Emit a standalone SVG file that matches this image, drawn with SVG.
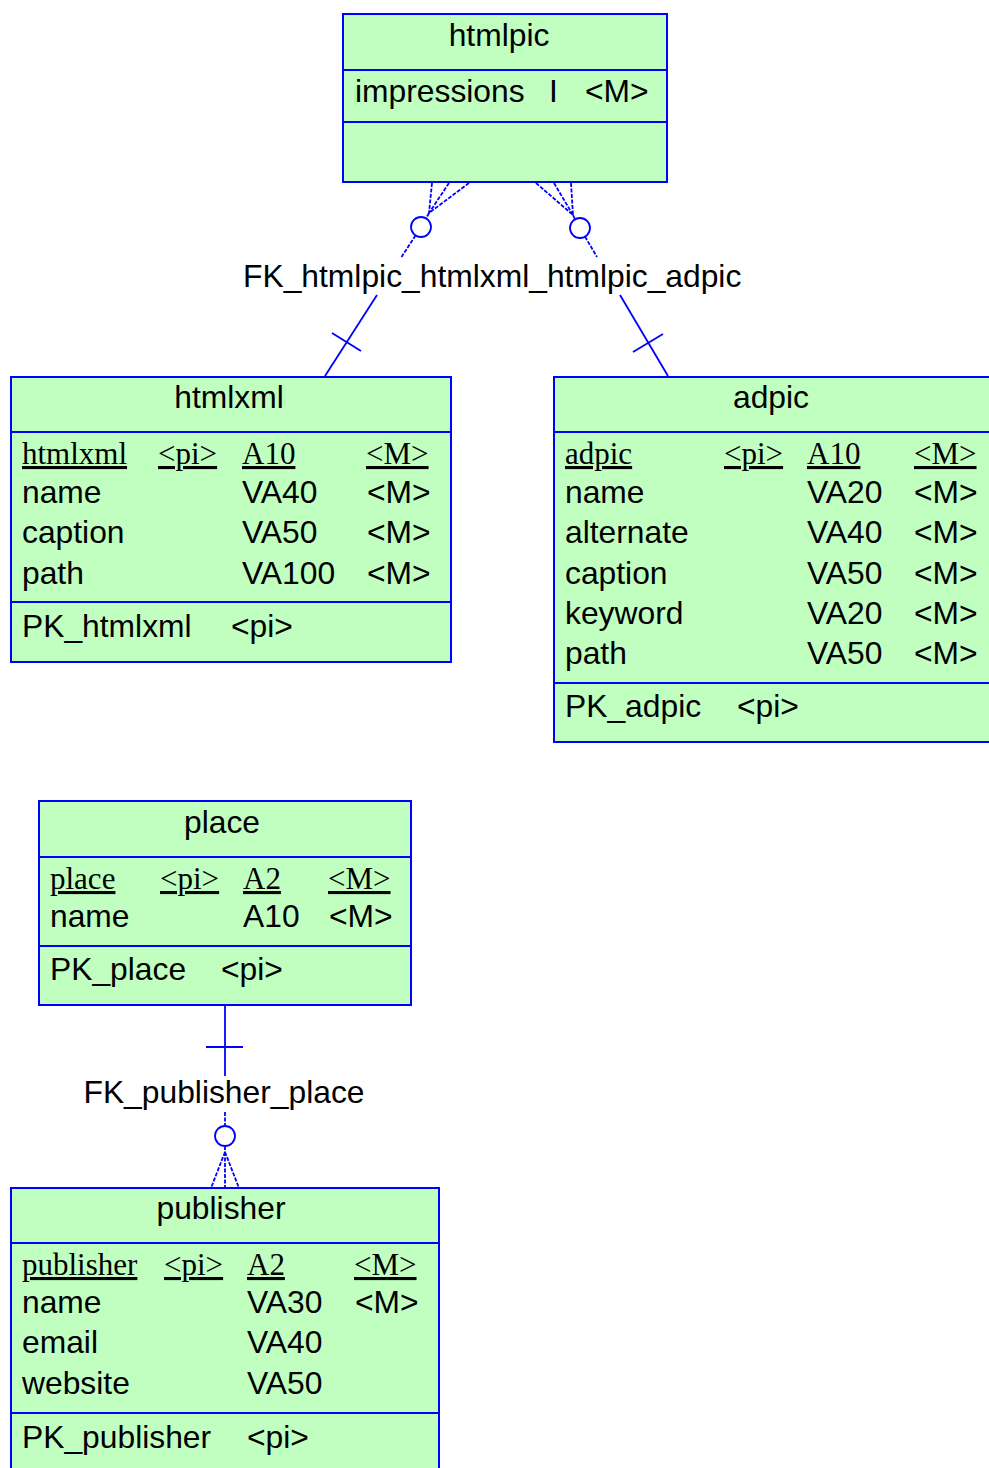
<svg xmlns="http://www.w3.org/2000/svg" width="989" height="1468" viewBox="0 0 989 1468">
<style>
.box{fill:#C0FFC0;stroke:#0000FF;stroke-width:2}
.div{stroke:#0000FF;stroke-width:2}
.t{font-family:"Liberation Sans",Arial,sans-serif;font-size:31.8px;fill:#000}
.c{text-anchor:middle}
.k{font-family:"Liberation Serif","Times New Roman",serif;font-size:31px;fill:#000;text-decoration:underline}
.ln{stroke:#0000FF;stroke-width:1.8;fill:none}
.dl{stroke:#0000FF;stroke-width:1.8;fill:none;stroke-dasharray:4,1.5}
.ci{stroke:#0000FF;stroke-width:1.8;fill:#fff}
</style>
<rect width="989" height="1468" fill="#fff"/>

<g id="connectors">
  <!-- FK_htmlpic_htmlxml -->
  <line class="dl" x1="449" y1="183" x2="429" y2="213"/>
  <line class="dl" x1="432" y1="183" x2="429" y2="213"/>
  <line class="dl" x1="469" y1="183" x2="429" y2="213"/>
  <line class="dl" x1="429" y1="213" x2="426" y2="218.6"/>
  <circle class="ci" cx="421" cy="227" r="10"/>
  <line class="dl" x1="415.6" y1="235.4" x2="401.5" y2="257"/>
  <line class="ln" x1="377" y1="295" x2="325" y2="376"/>
  <line class="ln" x1="332" y1="333" x2="361" y2="351"/>
  <!-- FK_htmlpic_adpic -->
  <line class="dl" x1="554" y1="183" x2="573" y2="215"/>
  <line class="dl" x1="536" y1="183" x2="573" y2="215"/>
  <line class="dl" x1="571" y1="183" x2="573" y2="215"/>
  <line class="dl" x1="573" y1="215" x2="575" y2="219.4"/>
  <circle class="ci" cx="580" cy="228" r="10"/>
  <line class="dl" x1="585" y1="236.6" x2="597" y2="257"/>
  <line class="ln" x1="620" y1="295" x2="668" y2="376"/>
  <line class="ln" x1="633" y1="352" x2="663" y2="334"/>
  <text class="t" x="243" y="287">FK_htmlpic_htmlxml_htmlpic_adpic</text>
  <!-- FK_publisher_place -->
  <line class="ln" x1="225" y1="1005" x2="225" y2="1076"/>
  <line class="ln" x1="206" y1="1047" x2="243" y2="1047"/>
  <text class="t c" x="224" y="1103">FK_publisher_place</text>
  <line class="dl" x1="225" y1="1112" x2="225" y2="1125"/>
  <circle class="ci" cx="225" cy="1136" r="10"/>
  <line class="dl" x1="225" y1="1146" x2="225" y2="1152"/>
  <line class="dl" x1="225" y1="1152" x2="225" y2="1188"/>
  <line class="dl" x1="225" y1="1152" x2="211" y2="1188"/>
  <line class="dl" x1="225" y1="1152" x2="239" y2="1188"/>
</g>

<g id="htmlpic">
  <rect class="box" x="343" y="14" width="324" height="168"/>
  <line class="div" x1="343" y1="70" x2="667" y2="70"/>
  <line class="div" x1="343" y1="122" x2="667" y2="122"/>
  <text class="t c" x="499" y="46">htmlpic</text>
  <text class="t" x="355" y="102">impressions</text>
  <text class="t" x="549" y="102">I</text>
  <text class="t" x="585" y="102">&lt;M&gt;</text>
</g>

<g id="htmlxml">
  <rect class="box" x="11" y="377" width="440" height="285"/>
  <line class="div" x1="11" y1="432" x2="451" y2="432"/>
  <line class="div" x1="11" y1="602" x2="451" y2="602"/>
  <text class="t c" x="229" y="408">htmlxml</text>
  <text class="k" x="22" y="464">htmlxml</text>
  <text class="k" x="158" y="464">&lt;pi&gt;</text>
  <text class="k" x="242" y="464">A10</text>
  <text class="k" x="366" y="464">&lt;M&gt;</text>
  <text class="t" x="22" y="503">name</text>
  <text class="t" x="242" y="503">VA40</text>
  <text class="t" x="367" y="503">&lt;M&gt;</text>
  <text class="t" x="22" y="543">caption</text>
  <text class="t" x="242" y="543">VA50</text>
  <text class="t" x="367" y="543">&lt;M&gt;</text>
  <text class="t" x="22" y="584">path</text>
  <text class="t" x="242" y="584">VA100</text>
  <text class="t" x="367" y="584">&lt;M&gt;</text>
  <text class="t" x="22" y="637">PK_htmlxml</text>
  <text class="t" x="231" y="637">&lt;pi&gt;</text>
</g>

<g id="adpic">
  <rect class="box" x="554" y="377" width="445" height="365"/>
  <line class="div" x1="554" y1="432" x2="999" y2="432"/>
  <line class="div" x1="554" y1="683" x2="999" y2="683"/>
  <text class="t c" x="771" y="408">adpic</text>
  <text class="k" x="565" y="464">adpic</text>
  <text class="k" x="724" y="464">&lt;pi&gt;</text>
  <text class="k" x="807" y="464">A10</text>
  <text class="k" x="914" y="464">&lt;M&gt;</text>
  <text class="t" x="565" y="503">name</text>
  <text class="t" x="807" y="503">VA20</text>
  <text class="t" x="914" y="503">&lt;M&gt;</text>
  <text class="t" x="565" y="543">alternate</text>
  <text class="t" x="807" y="543">VA40</text>
  <text class="t" x="914" y="543">&lt;M&gt;</text>
  <text class="t" x="565" y="584">caption</text>
  <text class="t" x="807" y="584">VA50</text>
  <text class="t" x="914" y="584">&lt;M&gt;</text>
  <text class="t" x="565" y="624">keyword</text>
  <text class="t" x="807" y="624">VA20</text>
  <text class="t" x="914" y="624">&lt;M&gt;</text>
  <text class="t" x="565" y="664">path</text>
  <text class="t" x="807" y="664">VA50</text>
  <text class="t" x="914" y="664">&lt;M&gt;</text>
  <text class="t" x="565" y="717">PK_adpic</text>
  <text class="t" x="737" y="717">&lt;pi&gt;</text>
</g>

<g id="place">
  <rect class="box" x="39" y="801" width="372" height="204"/>
  <line class="div" x1="39" y1="857" x2="411" y2="857"/>
  <line class="div" x1="39" y1="946" x2="411" y2="946"/>
  <text class="t c" x="222" y="833">place</text>
  <text class="k" x="50" y="889">place</text>
  <text class="k" x="160" y="889">&lt;pi&gt;</text>
  <text class="k" x="243" y="889">A2</text>
  <text class="k" x="328" y="889">&lt;M&gt;</text>
  <text class="t" x="50" y="927">name</text>
  <text class="t" x="243" y="927">A10</text>
  <text class="t" x="329" y="927">&lt;M&gt;</text>
  <text class="t" x="50" y="980">PK_place</text>
  <text class="t" x="221" y="980">&lt;pi&gt;</text>
</g>

<g id="publisher">
  <rect class="box" x="11" y="1188" width="428" height="290"/>
  <line class="div" x1="11" y1="1243" x2="439" y2="1243"/>
  <line class="div" x1="11" y1="1413" x2="439" y2="1413"/>
  <text class="t c" x="221" y="1219">publisher</text>
  <text class="k" x="22" y="1275">publisher</text>
  <text class="k" x="164" y="1275">&lt;pi&gt;</text>
  <text class="k" x="247" y="1275">A2</text>
  <text class="k" x="354" y="1275">&lt;M&gt;</text>
  <text class="t" x="22" y="1313">name</text>
  <text class="t" x="247" y="1313">VA30</text>
  <text class="t" x="355" y="1313">&lt;M&gt;</text>
  <text class="t" x="22" y="1353">email</text>
  <text class="t" x="247" y="1353">VA40</text>
  <text class="t" x="22" y="1394">website</text>
  <text class="t" x="247" y="1394">VA50</text>
  <text class="t" x="22" y="1448">PK_publisher</text>
  <text class="t" x="247" y="1448">&lt;pi&gt;</text>
</g>
</svg>
